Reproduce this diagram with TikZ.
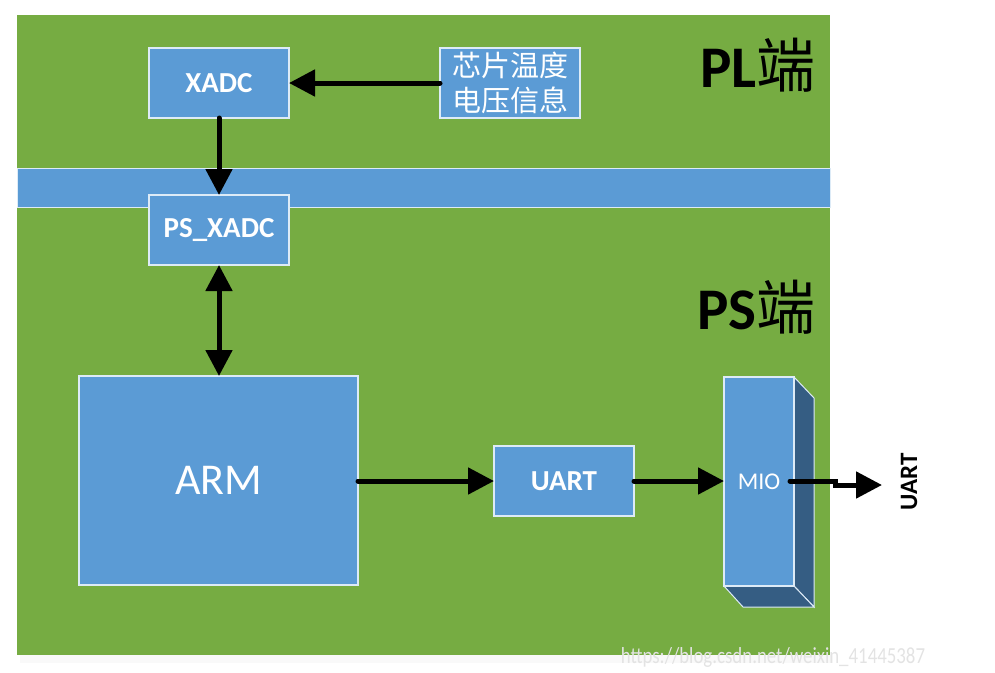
\documentclass[tikz,border=0pt]{standalone}
\usepackage{fontspec}
\setmainfont{Carlito}
\newfontfamily\cjk{Noto Sans CJK SC}
\usetikzlibrary{arrows.meta}
\definecolor{bggreen}{HTML}{76AC42}
\definecolor{boxblue}{HTML}{5B9BD5}
\definecolor{sideblue}{HTML}{355D83}
\definecolor{edgewhite}{HTML}{DDEBF7}
\tikzset{
  blockbox/.style={draw=edgewhite, line width=1.2pt, fill=boxblue, inner sep=0pt, outer sep=0pt, text=white, align=center},
  conn/.style={line width=5pt, line cap=round, -{Triangle[length=26pt,width=26pt]}},
  biconn/.style={line width=5pt, {Triangle[length=26pt,width=26pt]}-{Triangle[length=26pt,width=26pt]}},
}
\begin{document}
\begin{tikzpicture}[x=1pt,y=-1pt]
\useasboundingbox (0,0) rectangle (995,672);
% background
\fill[gray!5] (20,655) rectangle (833,663);
\fill[bggreen] (17,15) rectangle (830,655);
\draw[edgewhite, line width=1pt, fill=boxblue] (17,168) rectangle (830,207);
% PL / PS labels
\node[font=\bfseries\fontsize{59}{59}\selectfont, anchor=east, inner sep=0pt] (pl) at (816,65) {PL{\cjk\mdseries 端}};
\node[font=\bfseries\fontsize{59}{59}\selectfont, anchor=east, inner sep=0pt] (ps) at (816,307) {PS{\cjk\mdseries 端}};
% boxes
\node[blockbox, minimum width=140pt, minimum height=70pt, font=\bfseries\fontsize{29}{29}\selectfont] (xadc) at (219,83) {XADC};
\node[blockbox, minimum width=140pt, minimum height=70pt, font=\cjk\fontsize{29}{35}\selectfont] (chip) at (510,83) {芯片温度\\电压信息};
\node[blockbox, minimum width=140pt, minimum height=70pt, font=\bfseries\fontsize{29}{29}\selectfont] (psxadc) at (219,230) {PS\_XADC};
\node[blockbox, minimum width=279pt, minimum height=209pt, font=\fontsize{44}{44}\selectfont] (arm) at (218.5,480.5) {ARM};
\node[blockbox, minimum width=140pt, minimum height=70pt, font=\bfseries\fontsize{29}{29}\selectfont] (uart) at (564,481) {UART};
% MIO 3D block
\draw[edgewhite, line width=1pt, fill=sideblue] (794,377) -- (814,398) -- (814,607) -- (794,586) -- cycle;
\draw[edgewhite, line width=1pt, fill=sideblue] (724,586) -- (743,607) -- (814,607) -- (794,586) -- cycle;
\node[blockbox, minimum width=70pt, minimum height=209pt, font=\fontsize{24}{24}\selectfont] (mio) at (759,481.5) {MIO};
% output label
\node[font=\bfseries\fontsize{25}{25}\selectfont, rotate=90, inner sep=0pt] (uartout) at (909,482) {UART};
\coordinate (tip) at (882,485);
\coordinate (start) at (790,481);
% connectors
\draw[conn] (chip.west) -- (xadc.east);
\draw[conn] (xadc.south) -- (psxadc.north);
\draw[biconn] (psxadc.south) -- (arm.north -| psxadc.south);
\draw[conn] (arm.east |- uart.west) -- (uart.west);
\draw[conn] (uart.east) -- (mio.west |- uart.east);
\draw[conn] (start) -- (835,481) -- (835,485) -- (tip);
% watermark
\node[text=gray!22, font=\fontsize{23}{23}\selectfont, xscale=0.82, inner sep=0pt] (wm) at (773,657) {https://blog.csdn.net/weixin\_41445387};
\end{tikzpicture}
\end{document}
